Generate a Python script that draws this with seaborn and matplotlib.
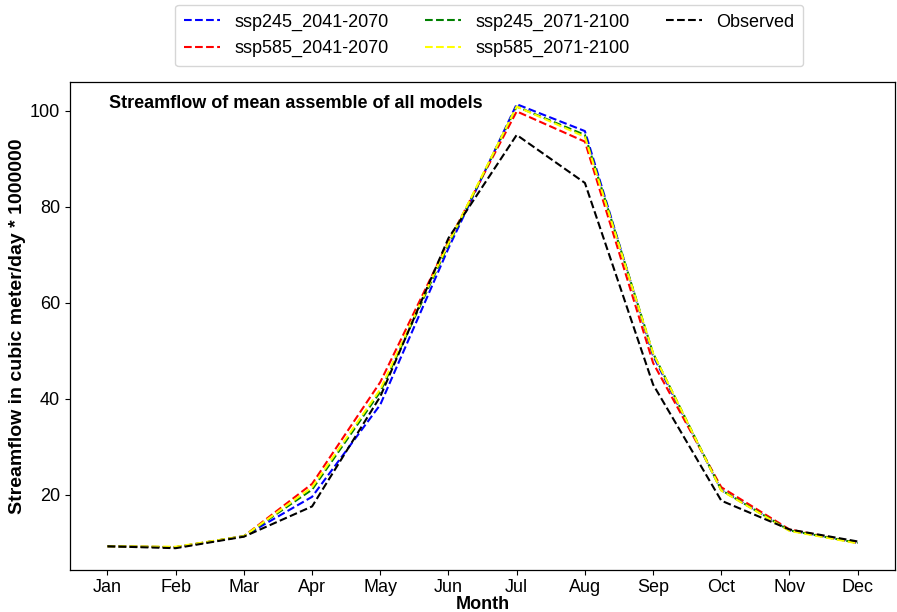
import matplotlib
matplotlib.use("Agg")
import matplotlib.pyplot as plt
import seaborn as sns
import pandas as pd

months = ["Jan", "Feb", "Mar", "Apr", "May", "Jun",
          "Jul", "Aug", "Sep", "Oct", "Nov", "Dec"]

ssp245_2041_2070 = [9.3, 9.1, 11.4, 19.6, 38.8, 71.4, 101.4, 95.8, 49.0, 21.0, 12.6, 10.0]
ssp585_2041_2070 = [9.3, 9.1, 11.4, 22.3, 43.5, 72.8, 99.9, 93.6, 47.5, 21.6, 12.8, 10.0]
ssp245_2071_2100 = [9.3, 9.1, 11.4, 21.1, 41.5, 72.2, 100.9, 95.0, 49.5, 21.0, 12.6, 10.0]
ssp585_2071_2100 = [9.3, 9.2, 11.4, 21.6, 42.0, 72.5, 100.9, 94.6, 49.5, 20.9, 12.5, 9.9]
observed         = [9.3, 8.9, 11.3, 17.6, 40.5, 73.5, 95.0, 85.0, 43.0, 18.8, 12.8, 10.3]

series = [
    ("ssp245_2041-2070", ssp245_2041_2070, "blue"),
    ("ssp585_2041-2070", ssp585_2041_2070, "red"),
    ("ssp245_2071-2100", ssp245_2071_2100, "green"),
    ("ssp585_2071-2100", ssp585_2071_2100, "yellow"),
    ("Observed", observed, "black"),
]

sns.set_style("ticks")
plt.rcParams["font.family"] = ["Liberation Sans", "DejaVu Sans"]
plt.rcParams["text.color"] = "black"
plt.rcParams["axes.labelcolor"] = "black"

fig = plt.figure(figsize=(8.97, 6.12), dpi=100)
ax = fig.add_axes([0.078, 0.068, 0.92, 0.798])

for name, vals, col in series:
    df = pd.DataFrame({"Month": months, "Flow": vals})
    sns.lineplot(data=df, x="Month", y="Flow", ax=ax, color=col,
                 linestyle="--", linewidth=1.5, label=name, sort=False)

ax.set_xlabel("Month", fontsize=13, fontweight="bold", labelpad=0)
ax.set_ylabel("Streamflow in cubic meter/day * 1000000", fontsize=14,
              fontweight="bold", labelpad=3)
ax.tick_params(axis="x", labelsize=13, colors="black", pad=2.5)
ax.tick_params(axis="y", labelsize=13, colors="black")
for s in ax.spines.values():
    s.set_color("black")
    s.set_linewidth(0.9)

ax.text(0.047, 0.957, "Streamflow of mean assemble of all models",
        transform=ax.transAxes, fontsize=13, fontweight="bold",
        va="center", ha="left")

leg = ax.legend(loc="lower center", bbox_to_anchor=(0.508, 1.014), ncol=3,
                fontsize=13, frameon=True, columnspacing=2.0,
                handlelength=2.0, borderpad=0.5)
leg.get_frame().set_edgecolor("#cccccc")

fig.savefig("out.png", dpi=100)
